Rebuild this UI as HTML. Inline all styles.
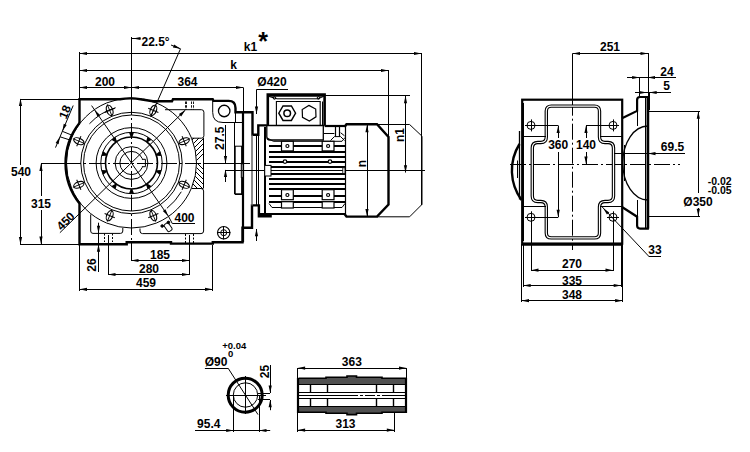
<!DOCTYPE html>
<html><head><meta charset="utf-8"><style>
html,body{margin:0;padding:0;background:#fff;}
svg{display:block;}
text{font-family:"Liberation Sans",sans-serif;font-weight:bold;fill:#000;stroke:none;}
</style></head><body>
<svg width="750" height="452" viewBox="0 0 750 452">
<g stroke="#000" fill="none" stroke-linecap="butt">
<line x1="79.5" y1="52" x2="79.5" y2="99" stroke-width="1" />
<line x1="131.5" y1="37" x2="131.5" y2="99" stroke-width="1" />
<line x1="131.5" y1="99" x2="131.5" y2="250" stroke-width="1" stroke-dasharray="16 3 2 3"/>
<line x1="79" y1="53.5" x2="421.5" y2="53.5" stroke-width="1" />
<path d="M79.50,53.50 L87.00,51.90 L87.00,55.10 Z" fill="#000" stroke="none"/>
<path d="M421.50,53.50 L414.00,55.10 L414.00,51.90 Z" fill="#000" stroke="none"/>
<line x1="421.5" y1="53" x2="421.5" y2="205" stroke-width="1" />
<line x1="79" y1="70.5" x2="388.5" y2="70.5" stroke-width="1" />
<path d="M79.50,70.50 L87.00,68.90 L87.00,72.10 Z" fill="#000" stroke="none"/>
<path d="M388.50,70.50 L381.00,72.10 L381.00,68.90 Z" fill="#000" stroke="none"/>
<line x1="388.5" y1="70" x2="388.5" y2="137" stroke-width="1" />
<line x1="79" y1="87.5" x2="243.5" y2="87.5" stroke-width="1" />
<path d="M79.50,87.50 L87.00,85.90 L87.00,89.10 Z" fill="#000" stroke="none"/>
<path d="M131.50,87.50 L124.00,89.10 L124.00,85.90 Z" fill="#000" stroke="none"/>
<path d="M131.50,87.50 L139.00,85.90 L139.00,89.10 Z" fill="#000" stroke="none"/>
<path d="M243.50,87.50 L236.00,89.10 L236.00,85.90 Z" fill="#000" stroke="none"/>
<line x1="243.5" y1="88" x2="243.5" y2="228" stroke-width="1" />
<text x="105" y="86" text-anchor="middle" font-size="12" >200</text>
<text x="187.5" y="86" text-anchor="middle" font-size="12" >364</text>
<text x="233.5" y="69" text-anchor="middle" font-size="12" >k</text>
<text x="250.5" y="51" text-anchor="middle" font-size="12" >k1</text>
<text x="263" y="50" text-anchor="middle" font-size="25" >*</text>
<line x1="131.5" y1="38.5" x2="140.5" y2="38.5" stroke-width="1" />
<path d="M133.00,38.50 L140.50,36.90 L140.50,40.10 Z" fill="#000" stroke="none"/>
<text x="141.5" y="46" text-anchor="start" font-size="12" >22.5°</text>
<line x1="150.6341716182545" y1="116.80602337443565" x2="180.5" y2="48.8" stroke-width="1" />
<path d="M180.50,48.80 L172.95,47.44 L174.16,44.48 Z" fill="#000" stroke="none"/>
<line x1="180.5" y1="48.8" x2="171" y2="45" stroke-width="1" />
<line x1="20" y1="99.5" x2="79" y2="99.5" stroke-width="1" />
<line x1="20.5" y1="99.5" x2="20.5" y2="165" stroke-width="1" />
<line x1="20.5" y1="178" x2="20.5" y2="244" stroke-width="1" />
<path d="M20.50,98.50 L22.10,106.00 L18.90,106.00 Z" fill="#000" stroke="none"/>
<path d="M20.50,244.50 L18.90,237.00 L22.10,237.00 Z" fill="#000" stroke="none"/>
<text x="21" y="176" text-anchor="middle" font-size="12" >540</text>
<line x1="41" y1="163.5" x2="79" y2="163.5" stroke-width="1" />
<line x1="41.5" y1="163.5" x2="41.5" y2="196" stroke-width="1" />
<line x1="41.5" y1="210" x2="41.5" y2="244" stroke-width="1" />
<path d="M41.00,163.50 L42.60,171.00 L39.40,171.00 Z" fill="#000" stroke="none"/>
<path d="M41.00,244.00 L39.40,236.50 L42.60,236.50 Z" fill="#000" stroke="none"/>
<text x="41" y="207.5" text-anchor="middle" font-size="12" >315</text>
<line x1="20" y1="244.5" x2="79" y2="244.5" stroke-width="1" />
<path d="M79.5,123 L79.5,99.2 L120,99.2 Q131,97.5 142,99.5 L153,101.2 L172,101.2 L173,99.2 L212.7,99.2 L213.5,100.9 L228.6,100.9 Q235.5,100.9 235.5,108 L235.5,112.2 L252.5,112.2 L252.5,134.8 L258.3,134.8 L258.3,125.4 L266.8,125.4" stroke-width="2.4" fill="none" />
<path d="M79.5,123 A65,65 0 0 0 79.5,203.5 L79.5,244.2 L126.7,244.2 L126.7,242.3 L171,242.3 L171,243.6 L212.8,243.6 L212.8,242.2 L242.5,242.2 L242.5,227.7 L252,227.7 L252,205.4 L258.9,205.4 L258.9,216.2 L271.8,216.2" stroke-width="2.4" fill="none" />
<circle cx="131.5" cy="163.0" r="65" stroke-width="1" fill="none" />
<circle cx="131.5" cy="163.0" r="50.7" stroke-width="1" fill="none" />
<circle cx="131.5" cy="163.0" r="48" stroke-width="1" fill="none" />
<circle cx="131.5" cy="163.0" r="35.4" stroke-width="1" fill="none" />
<circle cx="131.5" cy="163.0" r="30.7" stroke-width="1" fill="none" />
<circle cx="131.5" cy="163.0" r="16.4" stroke-width="1" fill="none" />
<circle cx="131.5" cy="163.0" r="11.6" stroke-width="1" fill="none" />
<circle cx="131.5" cy="163.0" r="26" stroke-width="1.6" fill="none" />
<rect x="141.5" y="159.9" width="3" height="6.2" rx="0" stroke-width="0" fill="#fff" />
<line x1="140.5" y1="163.5" x2="146.5" y2="163.5" stroke-width="1" />
<path d="M142.7,159.3 L145.4,159.3 L145.4,166.7 L142.7,166.7" stroke-width="1" fill="none" />
<line x1="41" y1="163.5" x2="204" y2="163.5" stroke-width="1" stroke-dasharray="16 3 2 3"/>
<line x1="204" y1="163.5" x2="243" y2="163.5" stroke-width="1" />
<g transform="translate(184.16,141.19) rotate(-22.5)"><ellipse cx="0" cy="0" rx="5.4" ry="3" stroke-width="1.1" fill="none"/><line x1="-6.5" y1="0" x2="6.5" y2="0" stroke-width="0.9"/><line x1="0" y1="-5.5" x2="0" y2="5.5" stroke-width="1"/></g>
<g transform="translate(153.31,110.34) rotate(-67.5)"><ellipse cx="0" cy="0" rx="5.4" ry="3" stroke-width="1.1" fill="none"/><line x1="-6.5" y1="0" x2="6.5" y2="0" stroke-width="0.9"/><line x1="0" y1="-5.5" x2="0" y2="5.5" stroke-width="1"/></g>
<g transform="translate(109.69,110.34) rotate(-112.5)"><ellipse cx="0" cy="0" rx="5.4" ry="3" stroke-width="1.1" fill="none"/><line x1="-6.5" y1="0" x2="6.5" y2="0" stroke-width="0.9"/><line x1="0" y1="-5.5" x2="0" y2="5.5" stroke-width="1"/></g>
<g transform="translate(78.84,141.19) rotate(-157.5)"><ellipse cx="0" cy="0" rx="5.4" ry="3" stroke-width="1.1" fill="none"/><line x1="-6.5" y1="0" x2="6.5" y2="0" stroke-width="0.9"/><line x1="0" y1="-5.5" x2="0" y2="5.5" stroke-width="1"/></g>
<g transform="translate(78.84,184.81) rotate(-202.5)"><ellipse cx="0" cy="0" rx="5.4" ry="3" stroke-width="1.1" fill="none"/><line x1="-6.5" y1="0" x2="6.5" y2="0" stroke-width="0.9"/><line x1="0" y1="-5.5" x2="0" y2="5.5" stroke-width="1"/></g>
<g transform="translate(109.69,215.66) rotate(-247.5)"><ellipse cx="0" cy="0" rx="5.4" ry="3" stroke-width="1.1" fill="none"/><line x1="-6.5" y1="0" x2="6.5" y2="0" stroke-width="0.9"/><line x1="0" y1="-5.5" x2="0" y2="5.5" stroke-width="1"/></g>
<g transform="translate(153.31,215.66) rotate(-292.5)"><ellipse cx="0" cy="0" rx="5.4" ry="3" stroke-width="1.1" fill="none"/><line x1="-6.5" y1="0" x2="6.5" y2="0" stroke-width="0.9"/><line x1="0" y1="-5.5" x2="0" y2="5.5" stroke-width="1"/></g>
<g transform="translate(184.16,184.81) rotate(-337.5)"><ellipse cx="0" cy="0" rx="5.4" ry="3" stroke-width="1.1" fill="none"/><line x1="-6.5" y1="0" x2="6.5" y2="0" stroke-width="0.9"/><line x1="0" y1="-5.5" x2="0" y2="5.5" stroke-width="1"/></g>
<g transform="translate(131.50,134.50) rotate(0)"><path d="M-2.6,-2.2 L2.6,-2.2 L0.8,2.4 L-0.8,2.4 Z" fill="#000" stroke="none"/></g>
<g transform="translate(114.75,139.94) rotate(-36)"><path d="M-2.6,-2.2 L2.6,-2.2 L0.8,2.4 L-0.8,2.4 Z" fill="#000" stroke="none"/></g>
<g transform="translate(104.39,154.19) rotate(-72)"><path d="M-2.6,-2.2 L2.6,-2.2 L0.8,2.4 L-0.8,2.4 Z" fill="#000" stroke="none"/></g>
<g transform="translate(104.39,171.81) rotate(-108)"><path d="M-2.6,-2.2 L2.6,-2.2 L0.8,2.4 L-0.8,2.4 Z" fill="#000" stroke="none"/></g>
<g transform="translate(114.75,186.06) rotate(-144)"><path d="M-2.6,-2.2 L2.6,-2.2 L0.8,2.4 L-0.8,2.4 Z" fill="#000" stroke="none"/></g>
<g transform="translate(131.50,191.50) rotate(-180)"><path d="M-2.6,-2.2 L2.6,-2.2 L0.8,2.4 L-0.8,2.4 Z" fill="#000" stroke="none"/></g>
<g transform="translate(148.25,186.06) rotate(-216)"><path d="M-2.6,-2.2 L2.6,-2.2 L0.8,2.4 L-0.8,2.4 Z" fill="#000" stroke="none"/></g>
<g transform="translate(158.61,171.81) rotate(-252)"><path d="M-2.6,-2.2 L2.6,-2.2 L0.8,2.4 L-0.8,2.4 Z" fill="#000" stroke="none"/></g>
<g transform="translate(158.61,154.19) rotate(-288)"><path d="M-2.6,-2.2 L2.6,-2.2 L0.8,2.4 L-0.8,2.4 Z" fill="#000" stroke="none"/></g>
<g transform="translate(148.25,139.94) rotate(-324)"><path d="M-2.6,-2.2 L2.6,-2.2 L0.8,2.4 L-0.8,2.4 Z" fill="#000" stroke="none"/></g>
<path d="M115.65,107.73 A57.5,57.5 0 0 0 89.45,123.79" stroke-width="1" fill="none" />
<path d="M166.90,208.31 A57.5,57.5 0 0 0 181.30,191.75" stroke-width="1" fill="none" />
<line x1="59.9" y1="232.7" x2="185.4" y2="110" stroke-width="1" />
<path d="M185.40,110.00 L181.16,116.39 L178.92,114.11 Z" fill="#000" stroke="none"/>
<text x="68.5" y="224" text-anchor="middle" font-size="12" transform="rotate(-45 68.5 224)" >450</text>
<line x1="91.6" y1="105.6" x2="168.4" y2="216.2" stroke-width="1" />
<path d="M168.40,216.20 L162.81,210.95 L165.43,209.13 Z" fill="#000" stroke="none"/>
<path d="M94.50,109.80 L100.09,115.05 L97.47,116.87 Z" fill="#000" stroke="none"/>
<line x1="168.4" y1="216.2" x2="172.4" y2="223.7" stroke-width="1" />
<line x1="172.4" y1="223.5" x2="195" y2="223.5" stroke-width="1" />
<text x="184.5" y="221.5" text-anchor="middle" font-size="12" >400</text>
<g transform="translate(168,227) rotate(-35)"><rect x="-2.6" y="-4" width="5.2" height="8.5" rx="1.5" stroke-width="1" fill="#fff"/></g>
<circle cx="162.2" cy="226" r="1.3" stroke-width="1" fill="#000" />
<circle cx="168.4" cy="222.4" r="1.3" stroke-width="1" fill="#000" />
<line x1="73.2" y1="105.5" x2="55.5" y2="147.6" stroke-width="1" />
<path d="M62.30,131.30 L63.75,123.77 L66.70,125.02 Z" fill="#000" stroke="none"/>
<path d="M60.00,136.80 L58.55,144.33 L55.60,143.08 Z" fill="#000" stroke="none"/>
<line x1="62.3" y1="131.3" x2="71" y2="134.8" stroke-width="1" />
<line x1="60" y1="136.8" x2="70" y2="140" stroke-width="1" />
<text x="68.8" y="113.5" text-anchor="middle" font-size="12" transform="rotate(-68 68.8 113.5)" >18</text>
<line x1="225.5" y1="125" x2="225.5" y2="163" stroke-width="1" />
<path d="M225.50,163.50 L223.90,156.00 L227.10,156.00 Z" fill="#000" stroke="none"/>
<path d="M225.50,169.50 L227.10,177.00 L223.90,177.00 Z" fill="#000" stroke="none"/>
<line x1="225.5" y1="170" x2="225.5" y2="182" stroke-width="1" />
<text x="223.6" y="138.2" text-anchor="middle" font-size="12" transform="rotate(-90 223.6 138.2)" >27.5</text>
<path d="M90.7,214.4 L90.7,231 Q90.7,233.4 93,233.4 L120.5,233.4 Q122.8,233.4 122.8,231 L122.8,228" stroke-width="1" fill="none" />
<path d="M140,228.5 L140,231 Q140,233.6 142.5,233.6 L201,233.6 Q203.6,233.6 203.6,231 L203.6,191 Q203.6,188.5 201,188.5 L192,188.5" stroke-width="1" fill="none" />
<path d="M165,109.7 L201.4,109.7 Q203.9,109.7 203.9,112.2 L203.9,135.8 Q203.9,138.2 201.4,138.2 L192,138.2" stroke-width="1" fill="none" />
<line x1="131.5" y1="245" x2="131.5" y2="261" stroke-width="1" />
<line x1="189.5" y1="235" x2="189.5" y2="275" stroke-width="1" />
<line x1="131" y1="260.5" x2="189.5" y2="260.5" stroke-width="1" />
<path d="M131.00,260.50 L138.50,258.90 L138.50,262.10 Z" fill="#000" stroke="none"/>
<path d="M189.50,260.50 L182.00,262.10 L182.00,258.90 Z" fill="#000" stroke="none"/>
<text x="160" y="258.5" text-anchor="middle" font-size="12" >185</text>
<line x1="108.5" y1="235" x2="108.5" y2="275" stroke-width="1" />
<line x1="108" y1="274.5" x2="189.5" y2="274.5" stroke-width="1" />
<path d="M108.00,274.50 L115.50,272.90 L115.50,276.10 Z" fill="#000" stroke="none"/>
<path d="M189.50,274.50 L182.00,276.10 L182.00,272.90 Z" fill="#000" stroke="none"/>
<text x="149" y="273" text-anchor="middle" font-size="12" >280</text>
<line x1="79.5" y1="245" x2="79.5" y2="291" stroke-width="1" />
<line x1="212.5" y1="245" x2="212.5" y2="291" stroke-width="1" />
<line x1="79.5" y1="289.5" x2="212.5" y2="289.5" stroke-width="1" />
<path d="M79.50,289.30 L87.00,287.70 L87.00,290.90 Z" fill="#000" stroke="none"/>
<path d="M212.50,289.30 L205.00,290.90 L205.00,287.70 Z" fill="#000" stroke="none"/>
<text x="146" y="287" text-anchor="middle" font-size="12" >459</text>
<line x1="98.5" y1="222.7" x2="98.5" y2="272" stroke-width="1" />
<path d="M98.50,233.20 L96.90,225.70 L100.10,225.70 Z" fill="#000" stroke="none"/>
<path d="M98.50,244.20 L100.10,251.70 L96.90,251.70 Z" fill="#000" stroke="none"/>
<text x="96" y="265" text-anchor="middle" font-size="12" transform="rotate(-90 96 265)" >26</text>
<line x1="104.5" y1="233.5" x2="104.5" y2="242" stroke-width="1" stroke-dasharray="2 1.5"/>
<line x1="112.5" y1="233.5" x2="112.5" y2="242" stroke-width="1" stroke-dasharray="2 1.5"/>
<line x1="108.5" y1="242" x2="108.5" y2="275" stroke-width="1" />
<line x1="185.5" y1="234" x2="185.5" y2="243" stroke-width="1" stroke-dasharray="2 1.5"/>
<line x1="193.5" y1="234" x2="193.5" y2="243" stroke-width="1" stroke-dasharray="2 1.5"/>
<line x1="185.5" y1="101.5" x2="185.5" y2="109.5" stroke-width="0.9" stroke-dasharray="2.5 1.2"/>
<line x1="186.5" y1="101.5" x2="186.5" y2="109.5" stroke-width="0.9" stroke-dasharray="2.5 1.2"/>
<line x1="191.5" y1="101.5" x2="191.5" y2="109.5" stroke-width="0.9" stroke-dasharray="2.5 1.2"/>
<line x1="193.5" y1="101.5" x2="193.5" y2="109.5" stroke-width="0.9" stroke-dasharray="2.5 1.2"/>
<circle cx="223.7" cy="232.7" r="6.2" stroke-width="1.2" fill="none" />
<circle cx="223.7" cy="232.7" r="3" stroke-width="1" fill="none" />
<line x1="217" y1="232.5" x2="230.4" y2="232.5" stroke-width="1" />
<line x1="223.5" y1="226" x2="223.5" y2="239.4" stroke-width="1" />
<circle cx="224.2" cy="111" r="5.75" stroke-width="1.3" fill="none" />
<path d="M212.7,100.5 L212.7,112.4 Q212.7,122.5 223,122.5 L243,122.5" stroke-width="1" fill="none" />
<line x1="235.5" y1="112.4" x2="235.5" y2="122.5" stroke-width="1" />
<line x1="234.5" y1="122.5" x2="234.5" y2="194" stroke-width="1" />
<line x1="234.8" y1="194.5" x2="242.5" y2="194.5" stroke-width="1" />
<rect x="235.2" y="146.2" width="6.4" height="47.6" rx="0" stroke-width="1" fill="none" />
<line x1="243.5" y1="87.8" x2="243.5" y2="112.2" stroke-width="1" />
<line x1="243" y1="112.2" x2="243" y2="242.2" stroke-width="2.2" />
<rect x="241.3" y="163.8" width="1.7" height="13.6" rx="0" stroke-width="1" fill="#fff" />
<line x1="252" y1="134.8" x2="252" y2="205.4" stroke-width="1.5" stroke="#666"/>
<line x1="256.5" y1="134.8" x2="256.5" y2="205.4" stroke-width="1" />
<line x1="258.5" y1="134.8" x2="258.5" y2="205.4" stroke-width="1" />
<line x1="203.5" y1="138" x2="203.5" y2="188.5" stroke-width="1" />
<clipPath id="hc"><path d="M191.5,138 L204,138 L204,189 L191.1,189 A65,65 0 0 0 191.5,138 Z"/></clipPath>
<g clip-path="url(#hc)"><line x1="188" y1="144" x2="206" y2="126" stroke-width="1"/><line x1="188" y1="149" x2="206" y2="131" stroke-width="1"/><line x1="188" y1="154" x2="206" y2="136" stroke-width="1"/><line x1="188" y1="159" x2="206" y2="141" stroke-width="1"/><line x1="188" y1="164" x2="206" y2="146" stroke-width="1"/><line x1="188" y1="169" x2="206" y2="151" stroke-width="1"/><line x1="188" y1="154" x2="206" y2="172" stroke-width="1"/><line x1="188" y1="159" x2="206" y2="177" stroke-width="1"/><line x1="188" y1="164" x2="206" y2="182" stroke-width="1"/><line x1="188" y1="169" x2="206" y2="187" stroke-width="1"/><line x1="188" y1="174" x2="206" y2="192" stroke-width="1"/><line x1="188" y1="179" x2="206" y2="197" stroke-width="1"/></g>
<line x1="225" y1="170.5" x2="425" y2="170.5" stroke-width="1" />
<line x1="240" y1="163.5" x2="250" y2="163.5" stroke-width="1" />
<path d="M267.8,125.5 L267.8,94.6 L324.6,94.6 L324.6,125.5" stroke-width="2.6" fill="none" />
<line x1="267.8" y1="96" x2="324.6" y2="96" stroke-width="1.5" />
<path d="M269,96.5 L277,98.8 L317.5,98.8 L323.5,96.5" stroke-width="1" fill="none" />
<circle cx="274.5" cy="98" r="1.3" stroke-width="1" fill="none" />
<circle cx="318.5" cy="98" r="1.3" stroke-width="1" fill="none" />
<path d="M276.4,125.5 L276.4,101.5 L320.2,101.5 L320.2,125.5" stroke-width="1.1" fill="none" />
<line x1="322.5" y1="101.5" x2="322.5" y2="125.5" stroke-width="1" />
<line x1="267.8" y1="125.5" x2="324.6" y2="125.5" stroke-width="1" />
<path d="M295.60,113.20 L291.40,120.47 L283.00,120.47 L278.80,113.20 L283.00,105.93 L291.40,105.93 Z" stroke-width="1.4" fill="none" />
<circle cx="287.2" cy="113.2" r="3.3" stroke-width="1.5" fill="none" />
<path d="M308.83,105.40 L315.71,109.07 L315.99,116.86 L309.37,121.00 L302.49,117.33 L302.21,109.54 Z" stroke-width="1.2" fill="none" />
<path d="M266.8,125.5 L323.3,125.5 L323.3,140 L270,140 Q266.8,140 266.8,137 Z" stroke-width="1.3" fill="none" />
<line x1="265" y1="127" x2="265" y2="214.5" stroke-width="2" />
<line x1="258" y1="214" x2="345" y2="214" stroke-width="2" />
<line x1="324.6" y1="126" x2="345" y2="126" stroke-width="2.2" />
<line x1="335.5" y1="126.5" x2="335.5" y2="136.6" stroke-width="1.2" />
<line x1="339.5" y1="126.5" x2="339.5" y2="136.6" stroke-width="1.2" />
<line x1="323.9" y1="133.5" x2="334.4" y2="133.5" stroke-width="1" />
<path d="M330.5,140.5 L334.4,136.6 L340.6,136.6 L344.5,140.5" stroke-width="1" fill="none" />
<line x1="340.6" y1="132.7" x2="344.5" y2="135.8" stroke-width="1" />
<line x1="269" y1="146" x2="345" y2="146" stroke-width="2" />
<line x1="269" y1="152" x2="345" y2="152" stroke-width="2" />
<line x1="269" y1="157" x2="345" y2="157" stroke-width="2" />
<line x1="269" y1="162" x2="345" y2="162" stroke-width="2" />
<line x1="269" y1="167" x2="345" y2="167" stroke-width="2" />
<line x1="269" y1="174" x2="345" y2="174" stroke-width="2" />
<line x1="269" y1="179" x2="345" y2="179" stroke-width="2" />
<line x1="269" y1="184" x2="345" y2="184" stroke-width="2" />
<line x1="269" y1="189" x2="345" y2="189" stroke-width="2" />
<line x1="269" y1="196" x2="345" y2="196" stroke-width="2" />
<line x1="269" y1="202" x2="345" y2="202" stroke-width="2" />
<rect x="342.8" y="167.8" width="2.2" height="5.6" rx="0" stroke-width="0.8" fill="#fff" />
<path d="M269,203.5 L272,207.5 L342,207.5 L345,203.5" stroke-width="1" fill="none" />
<path d="M267.3,138 L273.3,141.3 L342,141.3 L345,137.5" stroke-width="1" fill="none" />
<rect x="281.5" y="141.3" width="11.8" height="9.6" rx="0" stroke-width="1.2" fill="#fff" />
<circle cx="287.4" cy="146" r="1.5" stroke-width="1.2" fill="none" />
<rect x="281.5" y="189.7" width="11.8" height="10" rx="0" stroke-width="1.2" fill="#fff" />
<circle cx="287.4" cy="195" r="1.5" stroke-width="1.2" fill="none" />
<rect x="281.5" y="201.7" width="11.8" height="6.3" rx="0" stroke-width="1.2" fill="#fff" />
<rect x="322.2" y="141.3" width="11.8" height="9.6" rx="0" stroke-width="1.2" fill="#fff" />
<circle cx="328.09999999999997" cy="146" r="1.5" stroke-width="1.2" fill="none" />
<rect x="322.2" y="189.7" width="11.8" height="10" rx="0" stroke-width="1.2" fill="#fff" />
<circle cx="328.09999999999997" cy="195" r="1.5" stroke-width="1.2" fill="none" />
<rect x="322.2" y="201.7" width="11.8" height="6.3" rx="0" stroke-width="1.2" fill="#fff" />
<circle cx="285" cy="161.6" r="1.8" stroke-width="1.2" fill="#fff" />
<circle cx="330" cy="161.6" r="1.8" stroke-width="1.2" fill="#fff" />
<rect x="264.7" y="165.4" width="6.3" height="10.6" rx="0" stroke-width="1" fill="#fff" />
<path d="M344.5,127 L346.5,124.2 L377,124.2 L388.5,137 L388.5,204.5 L377,216.6 L346.5,216.6 L344.5,214" stroke-width="2.4" fill="none" />
<line x1="345.5" y1="126" x2="345.5" y2="214" stroke-width="1.2" />
<path d="M377,124.5 L409.6,124.5 L422,136.2 L422,204.4 L409.6,216.8 L377,216.8" stroke-width="1" fill="none" />
<line x1="367.5" y1="125" x2="367.5" y2="216" stroke-width="1" />
<path d="M367.00,124.70 L368.60,132.20 L365.40,132.20 Z" fill="#000" stroke="none"/>
<path d="M367.00,216.60 L365.40,209.10 L368.60,209.10 Z" fill="#000" stroke="none"/>
<text x="366" y="163.5" text-anchor="middle" font-size="12" transform="rotate(-90 366 163.5)" >n</text>
<line x1="325" y1="95.5" x2="410" y2="95.5" stroke-width="1" />
<line x1="405.5" y1="96" x2="405.5" y2="172.5" stroke-width="1" />
<path d="M405.50,95.70 L407.10,103.20 L403.90,103.20 Z" fill="#000" stroke="none"/>
<path d="M405.50,172.70 L403.90,165.20 L407.10,165.20 Z" fill="#000" stroke="none"/>
<text x="403.8" y="135" text-anchor="middle" font-size="12" transform="rotate(-90 403.8 135)" >n1</text>
<line x1="256.5" y1="89.5" x2="288" y2="89.5" stroke-width="1" />
<line x1="256.5" y1="89.5" x2="256.5" y2="114" stroke-width="1" />
<path d="M256.50,114.00 L254.90,106.50 L258.10,106.50 Z" fill="#000" stroke="none"/>
<line x1="256.5" y1="229" x2="256.5" y2="241" stroke-width="1" />
<path d="M256.50,228.80 L258.10,236.30 L254.90,236.30 Z" fill="#000" stroke="none"/>
<text x="272" y="86" text-anchor="middle" font-size="12" >Ø420</text>
<rect x="522.2" y="99.7" width="100" height="144" rx="0" stroke-width="2.2" fill="none" />
<line x1="522" y1="244.2" x2="622.5" y2="244.2" stroke-width="3" />
<line x1="519.5" y1="131" x2="519.5" y2="199.5" stroke-width="1.3" />
<line x1="517.5" y1="160.5" x2="517.5" y2="178" stroke-width="1" />
<line x1="523.5" y1="103" x2="523.5" y2="241" stroke-width="1" />
<path d="M519.5,144 A50,50 0 0 0 521.5,200" stroke-width="2.4" fill="none" />
<line x1="572.5" y1="53.5" x2="572.5" y2="99.7" stroke-width="1" />
<line x1="572.5" y1="99.7" x2="572.5" y2="250" stroke-width="1" stroke-dasharray="16 3 2 3"/>
<line x1="510" y1="164.5" x2="680" y2="164.5" stroke-width="1" stroke-dasharray="16 3 2 3"/>
<path d="M546.3,137 L546.3,111.1 Q546.3,106.1 551.3,106.1 L594.5,106.1 Q599.5,106.1 599.5,111.1 L599.5,137 Q599.5,142.5 605,142.5 L608,142.5 Q613.5,142.5 613.5,148 L613.5,196 Q613.5,201.5 608,201.5 L605,201.5 Q599.5,201.5 599.5,207 L599.5,232.9 Q599.5,237.9 594.5,237.9 L551.3,237.9 Q546.3,237.9 546.3,232.9 L546.3,207 Q546.3,201.5 540.8,201.5 L537.8,201.5 Q532.3,201.5 532.3,196 L532.3,148 Q532.3,142.5 537.8,142.5 L540.8,142.5 Q546.3,142.5 546.3,137 Z" stroke-width="3.4" fill="none" />
<path d="M546.3,137 L546.3,111.1 Q546.3,106.1 551.3,106.1 L594.5,106.1 Q599.5,106.1 599.5,111.1 L599.5,137 Q599.5,142.5 605,142.5 L608,142.5 Q613.5,142.5 613.5,148 L613.5,196 Q613.5,201.5 608,201.5 L605,201.5 Q599.5,201.5 599.5,207 L599.5,232.9 Q599.5,237.9 594.5,237.9 L551.3,237.9 Q546.3,237.9 546.3,232.9 L546.3,207 Q546.3,201.5 540.8,201.5 L537.8,201.5 Q532.3,201.5 532.3,196 L532.3,148 Q532.3,142.5 537.8,142.5 L540.8,142.5 Q546.3,142.5 546.3,137 Z" stroke="#fff" stroke-width="1.2" fill="none"/>
<line x1="522" y1="136.5" x2="546" y2="136.5" stroke-width="1" />
<line x1="600" y1="136.5" x2="622" y2="136.5" stroke-width="1" />
<line x1="522" y1="206.5" x2="546" y2="206.5" stroke-width="1" />
<line x1="600" y1="206.5" x2="622" y2="206.5" stroke-width="1" />
<circle cx="531" cy="125.4" r="4" stroke-width="1" fill="none" />
<line x1="525" y1="125.5" x2="537" y2="125.5" stroke-width="1" />
<line x1="531.5" y1="119.4" x2="531.5" y2="131.4" stroke-width="1" />
<circle cx="613" cy="125.4" r="4" stroke-width="1" fill="none" />
<line x1="607" y1="125.5" x2="619" y2="125.5" stroke-width="1" />
<line x1="613.5" y1="119.4" x2="613.5" y2="131.4" stroke-width="1" />
<circle cx="531" cy="217.3" r="4" stroke-width="1" fill="none" />
<line x1="525" y1="217.5" x2="537" y2="217.5" stroke-width="1" />
<line x1="531.5" y1="211.3" x2="531.5" y2="223.3" stroke-width="1" />
<circle cx="613" cy="217.3" r="4" stroke-width="1" fill="none" />
<line x1="607" y1="217.5" x2="619" y2="217.5" stroke-width="1" />
<line x1="613.5" y1="211.3" x2="613.5" y2="223.3" stroke-width="1" />
<line x1="531" y1="125.5" x2="558" y2="125.5" stroke-width="1" />
<line x1="586" y1="125.5" x2="613" y2="125.5" stroke-width="1" />
<line x1="531" y1="217.5" x2="558" y2="217.5" stroke-width="1" />
<line x1="558.5" y1="125.5" x2="558.5" y2="138" stroke-width="1" />
<line x1="558.5" y1="152" x2="558.5" y2="217.3" stroke-width="1" />
<path d="M558.20,125.50 L559.80,133.00 L556.60,133.00 Z" fill="#000" stroke="none"/>
<path d="M558.20,217.30 L556.60,209.80 L559.80,209.80 Z" fill="#000" stroke="none"/>
<text x="558.2" y="149.3" text-anchor="middle" font-size="12" >360</text>
<line x1="586.5" y1="125.5" x2="586.5" y2="138" stroke-width="1" />
<line x1="586.5" y1="152" x2="586.5" y2="164" stroke-width="1" />
<path d="M586.00,125.50 L587.60,133.00 L584.40,133.00 Z" fill="#000" stroke="none"/>
<path d="M586.00,164.00 L584.40,156.50 L587.60,156.50 Z" fill="#000" stroke="none"/>
<text x="586" y="149.3" text-anchor="middle" font-size="12" >140</text>
<path d="M622,118.2 L637.1,110.9 L637.1,100 Q637.1,97 640,97 L647.8,97 L647.8,228.6 L640,228.6 Q637.1,228.6 637.1,225.6 L637.1,216.7 L622,207" stroke-width="2.2" fill="none" />
<line x1="648" y1="97" x2="648" y2="228.6" stroke-width="2.5" />
<line x1="637.5" y1="110" x2="637.5" y2="126" stroke-width="1" />
<line x1="637.5" y1="200" x2="637.5" y2="217" stroke-width="1" />
<line x1="645.5" y1="97" x2="645.5" y2="228.6" stroke-width="1" />
<path d="M647.8,126 A25,37 0 0 0 647.8,200" stroke-width="1.3" fill="none" />
<line x1="624.5" y1="145" x2="624.5" y2="181" stroke-width="1" />
<line x1="572.5" y1="53.5" x2="648" y2="53.5" stroke-width="1" />
<path d="M572.50,53.50 L580.00,51.90 L580.00,55.10 Z" fill="#000" stroke="none"/>
<path d="M648.00,53.50 L640.50,55.10 L640.50,51.90 Z" fill="#000" stroke="none"/>
<line x1="648.5" y1="53" x2="648.5" y2="97" stroke-width="1" />
<text x="610" y="51" text-anchor="middle" font-size="12" >251</text>
<line x1="639.5" y1="77" x2="639.5" y2="97" stroke-width="1" />
<line x1="627" y1="77.5" x2="676" y2="77.5" stroke-width="1" />
<path d="M639.60,77.50 L632.10,79.10 L632.10,75.90 Z" fill="#000" stroke="none"/>
<path d="M647.50,77.50 L655.00,75.90 L655.00,79.10 Z" fill="#000" stroke="none"/>
<text x="667" y="75.5" text-anchor="middle" font-size="12" >24</text>
<line x1="635" y1="92.5" x2="671" y2="92.5" stroke-width="1" />
<path d="M646.90,92.50 L639.40,94.10 L639.40,90.90 Z" fill="#000" stroke="none"/>
<path d="M649.20,92.50 L656.70,90.90 L656.70,94.10 Z" fill="#000" stroke="none"/>
<line x1="649.5" y1="92" x2="649.5" y2="110" stroke-width="1" />
<text x="666.5" y="89.5" text-anchor="middle" font-size="12" >5</text>
<line x1="648" y1="111.5" x2="700" y2="111.5" stroke-width="1" />
<line x1="648" y1="216.5" x2="700" y2="216.5" stroke-width="1" />
<line x1="698.5" y1="111.5" x2="698.5" y2="193" stroke-width="1" />
<line x1="698.5" y1="208" x2="698.5" y2="216" stroke-width="1" />
<path d="M698.30,111.20 L699.90,118.70 L696.70,118.70 Z" fill="#000" stroke="none"/>
<path d="M698.30,216.20 L696.70,208.70 L699.90,208.70 Z" fill="#000" stroke="none"/>
<text x="698" y="205.6" text-anchor="middle" font-size="12" >Ø350</text>
<text x="719.7" y="185.4" text-anchor="middle" font-size="10.5" >-0.02</text>
<text x="719.7" y="194.3" text-anchor="middle" font-size="10.5" >-0.05</text>
<line x1="614" y1="153.5" x2="685" y2="153.5" stroke-width="1" />
<path d="M648.00,153.60 L655.50,152.00 L655.50,155.20 Z" fill="#000" stroke="none"/>
<text x="672.5" y="150.7" text-anchor="middle" font-size="12" >69.5</text>
<line x1="531.5" y1="222" x2="531.5" y2="271" stroke-width="1" />
<line x1="613.5" y1="222" x2="613.5" y2="271" stroke-width="1" />
<line x1="531" y1="270.5" x2="613" y2="270.5" stroke-width="1" />
<path d="M531.00,270.20 L538.50,268.60 L538.50,271.80 Z" fill="#000" stroke="none"/>
<path d="M613.00,270.20 L605.50,271.80 L605.50,268.60 Z" fill="#000" stroke="none"/>
<text x="572" y="267.7" text-anchor="middle" font-size="12" >270</text>
<line x1="523.5" y1="244" x2="523.5" y2="287" stroke-width="1" />
<line x1="621.5" y1="244" x2="621.5" y2="287" stroke-width="1" />
<line x1="523.2" y1="285.5" x2="621.2" y2="285.5" stroke-width="1" />
<path d="M523.20,285.50 L530.70,283.90 L530.70,287.10 Z" fill="#000" stroke="none"/>
<path d="M621.20,285.50 L613.70,287.10 L613.70,283.90 Z" fill="#000" stroke="none"/>
<text x="572" y="284.5" text-anchor="middle" font-size="12" >335</text>
<line x1="521.5" y1="244" x2="521.5" y2="302" stroke-width="1" />
<line x1="622.5" y1="244" x2="622.5" y2="302" stroke-width="1" />
<line x1="521.5" y1="300.5" x2="622.6" y2="300.5" stroke-width="1" />
<path d="M521.50,300.70 L529.00,299.10 L529.00,302.30 Z" fill="#000" stroke="none"/>
<path d="M622.60,300.70 L615.10,302.30 L615.10,299.10 Z" fill="#000" stroke="none"/>
<text x="572" y="299" text-anchor="middle" font-size="12" >348</text>
<line x1="601.3" y1="206" x2="648.5" y2="256" stroke-width="1" />
<line x1="648.5" y1="256.5" x2="661" y2="256.5" stroke-width="1" />
<path d="M603.00,208.00 L609.28,212.40 L606.94,214.58 Z" fill="#000" stroke="none"/>
<text x="655" y="254" text-anchor="middle" font-size="12" >33</text>
<circle cx="245.2" cy="395.2" r="17" stroke-width="3" fill="none" />
<circle cx="245.5" cy="395" r="12.2" stroke-width="1" fill="none" />
<line x1="258" y1="393.5" x2="270" y2="393.5" stroke-width="1" />
<line x1="258" y1="399.5" x2="270" y2="399.5" stroke-width="1" />
<line x1="245.5" y1="376" x2="245.5" y2="414" stroke-width="1" />
<line x1="226" y1="395.5" x2="266" y2="395.5" stroke-width="1" />
<line x1="270.5" y1="365" x2="270.5" y2="393" stroke-width="1" />
<line x1="270.5" y1="400" x2="270.5" y2="410.2" stroke-width="1" />
<path d="M270.20,393.00 L268.60,385.50 L271.80,385.50 Z" fill="#000" stroke="none"/>
<path d="M270.20,399.80 L271.80,407.30 L268.60,407.30 Z" fill="#000" stroke="none"/>
<text x="268.5" y="371.5" text-anchor="middle" font-size="12" transform="rotate(-90 268.5 371.5)" >25</text>
<line x1="258" y1="414.6" x2="228.1" y2="368.2" stroke-width="1" />
<line x1="228.1" y1="368.5" x2="204.9" y2="368.5" stroke-width="1" />
<text x="216" y="366" text-anchor="middle" font-size="12" >Ø90</text>
<text x="234.2" y="348.8" text-anchor="middle" font-size="9.5" >+0.04</text>
<text x="230.6" y="356.8" text-anchor="middle" font-size="9.5" >0</text>
<line x1="195" y1="430.5" x2="270.2" y2="430.5" stroke-width="1" />
<path d="M233.70,430.50 L226.20,432.10 L226.20,428.90 Z" fill="#000" stroke="none"/>
<path d="M259.00,430.50 L266.50,428.90 L266.50,432.10 Z" fill="#000" stroke="none"/>
<line x1="233.5" y1="395" x2="233.5" y2="432" stroke-width="1" />
<line x1="259.5" y1="395" x2="259.5" y2="432" stroke-width="1" />
<text x="208.8" y="427.9" text-anchor="middle" font-size="12" >95.4</text>
<path d="M298.5,378.3 L326,378.3 L326,377.3 L347,377.3 L347,376 L356.5,376 L356.5,377.3 L382,377.3 L382,378.3 L406,378.3 L406,384.5 L298.5,384.5 Z" stroke-width="0" fill="#505050" />
<path d="M298.5,412.3 L326,412.3 L326,413.3 L347,413.3 L347,414.6 L356.5,414.6 L356.5,413.3 L382,413.3 L382,412.3 L406,412.3 L406,406.2 L298.5,406.2 Z" stroke-width="0" fill="#505050" />
<path d="M298.5,378.3 L326,378.3 L326,377.3 L347,377.3 L347,376 L356.5,376 L356.5,377.3 L382,377.3 L382,378.3 L406,378.3" stroke-width="1.6" fill="none" />
<path d="M298.5,412.3 L326,412.3 L326,413.3 L347,413.3 L347,414.6 L356.5,414.6 L356.5,413.3 L382,413.3 L382,412.3 L406,412.3" stroke-width="1.6" fill="none" />
<line x1="298" y1="378" x2="298" y2="413" stroke-width="2.2" />
<line x1="406" y1="378" x2="406" y2="413" stroke-width="2.2" />
<line x1="298" y1="384.5" x2="406" y2="384.5" stroke-width="1" />
<line x1="298" y1="406.5" x2="406" y2="406.5" stroke-width="1" />
<line x1="310.5" y1="384" x2="310.5" y2="392.6" stroke-width="1.4" />
<line x1="310.5" y1="398.8" x2="310.5" y2="406.5" stroke-width="1.4" />
<line x1="327.5" y1="384" x2="327.5" y2="392.6" stroke-width="1.4" />
<line x1="327.5" y1="398.8" x2="327.5" y2="406.5" stroke-width="1.4" />
<line x1="376.5" y1="384" x2="376.5" y2="392.6" stroke-width="1.4" />
<line x1="376.5" y1="398.8" x2="376.5" y2="406.5" stroke-width="1.4" />
<line x1="393.5" y1="384" x2="393.5" y2="392.6" stroke-width="1.4" />
<line x1="393.5" y1="398.8" x2="393.5" y2="406.5" stroke-width="1.4" />
<line x1="298" y1="392.5" x2="406" y2="392.5" stroke-width="1.2" />
<line x1="298" y1="398.5" x2="406" y2="398.5" stroke-width="1.2" />
<line x1="298" y1="395.5" x2="406" y2="395.5" stroke-width="1.1" stroke-dasharray="60 2 3 2 10 2 3 2"/>
<line x1="297.6" y1="368.5" x2="406.5" y2="368.5" stroke-width="1" />
<path d="M297.60,368.10 L305.10,366.50 L305.10,369.70 Z" fill="#000" stroke="none"/>
<path d="M406.50,368.10 L399.00,369.70 L399.00,366.50 Z" fill="#000" stroke="none"/>
<line x1="297.5" y1="368" x2="297.5" y2="378" stroke-width="1" />
<line x1="406.5" y1="368" x2="406.5" y2="378" stroke-width="1" />
<text x="351.8" y="365.6" text-anchor="middle" font-size="12" >363</text>
<line x1="297.6" y1="430.5" x2="394.3" y2="430.5" stroke-width="1" />
<path d="M297.60,430.10 L305.10,428.50 L305.10,431.70 Z" fill="#000" stroke="none"/>
<path d="M394.30,430.10 L386.80,431.70 L386.80,428.50 Z" fill="#000" stroke="none"/>
<line x1="297.5" y1="412" x2="297.5" y2="432" stroke-width="1" />
<line x1="394.5" y1="412" x2="394.5" y2="432" stroke-width="1" />
<text x="345.5" y="428" text-anchor="middle" font-size="12" >313</text>
</g></svg></body></html>
